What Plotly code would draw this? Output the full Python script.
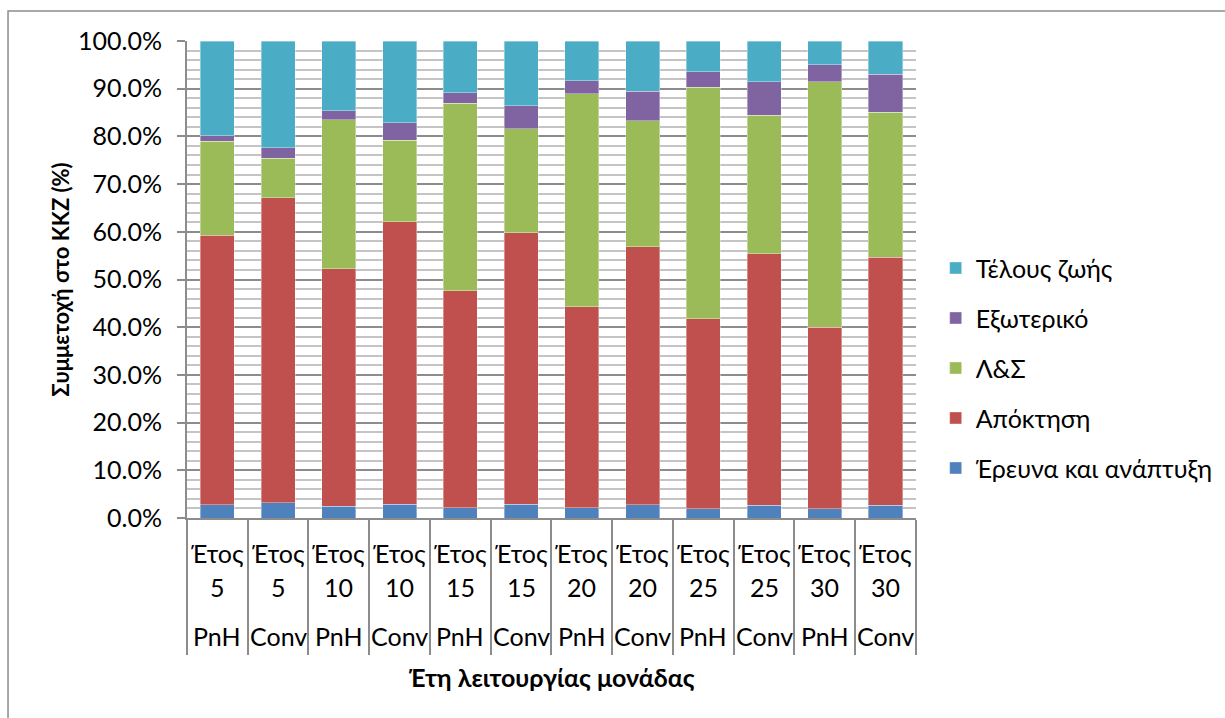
import plotly.graph_objects as go

# Categories: operating year and plant type
years = [5, 5, 10, 10, 15, 15, 20, 20, 25, 25, 30, 30]
kinds = ["PnH", "Conv", "PnH", "Conv", "PnH", "Conv",
         "PnH", "Conv", "PnH", "Conv", "PnH", "Conv"]

# Life-cycle cost shares (%) per phase
rnd = [2.8, 3.2, 2.5, 2.9, 2.2, 2.9, 2.2, 2.8, 1.95, 2.7, 1.95, 2.7]
acq = [56.5, 63.9, 49.8, 59.2, 45.4, 56.9, 42.1, 54.1, 39.85, 52.7, 38.05, 52.0]
om = [19.7, 8.3, 31.2, 17.1, 39.3, 21.8, 44.6, 26.4, 48.5, 29.0, 51.5, 30.4]
ext = [1.1, 2.2, 1.9, 3.7, 2.3, 4.8, 2.8, 6.2, 3.3, 7.1, 3.5, 7.9]
eol = [19.9, 22.4, 14.6, 17.1, 10.8, 13.6, 8.3, 10.5, 6.4, 8.5, 5.0, 7.0]

series_names = ["Έρευνα και ανάπτυξη", "Απόκτηση", "Λ&Σ", "Εξωτερικό", "Τέλους ζωής"]
series_values = [rnd, acq, om, ext, eol]
series_colors = ["#4F81BD", "#C0504D", "#9BBB59", "#8064A2", "#4BACC6"]

y_ticks = list(range(0, 101, 10))
y_ticklabels = [f"{v:.1f}%" for v in y_ticks]

cats = [f"Έτος {y} {k}" for y, k in zip(years, kinds)]

FONT = "Lato, 'Noto Sans', sans-serif"
FS = 25

fig = go.Figure()
n = len(series_names)
for i, (name, vals, col) in enumerate(zip(series_names, series_values, series_colors)):
    fig.add_trace(go.Bar(
        x=cats, y=vals, name=name,
        marker=dict(color=col, line=dict(color="rgba(255,255,255,0.6)", width=0.6)),
        legendgroup=f"g{i}", legendrank=n - i,
    ))

# Three-row category labels under each bar
annotations = []
for c, y, k in zip(cats, years, kinds):
    for text, py in (("Έτος", -0.0734), (str(y), -0.1447), (k, -0.2474)):
        annotations.append(dict(
            x=c, y=py, xref="x", yref="paper", text=text, showarrow=False,
            xanchor="center", yanchor="middle",
            font=dict(family=FONT, size=FS, color="#000000"),
        ))

# Horizontal axis title
annotations.append(dict(
    x=0.5, y=-0.333, xref="paper", yref="paper", showarrow=False,
    xanchor="center", yanchor="middle",
    text="<b>Έτη λειτουργίας μονάδας</b>",
    font=dict(family=FONT, size=FS, color="#000000"),
))

fig.update_layout(
    barmode="stack",
    bargap=0.44,
    width=1225, height=718,
    margin=dict(l=187, r=309, t=41, b=200, autoexpand=False),
    paper_bgcolor="white", plot_bgcolor="white",
    font=dict(family=FONT, size=FS, color="#000000"),
    showlegend=True,
    legend=dict(
        traceorder="grouped", x=1.027, y=0.314, xanchor="left", yanchor="middle",
        font=dict(family=FONT, size=FS), tracegroupgap=14.5,
        bgcolor="rgba(0,0,0,0)",
    ),
    annotations=annotations,
    shapes=[dict(
        type="rect", xref="paper", yref="paper",
        x0=-0.2455, x1=1.46, y0=-0.46, y1=1.0629,
        line=dict(color="#8C8C8C", width=1.5), fillcolor="rgba(0,0,0,0)", layer="below",
    )],
)

fig.update_xaxes(
    type="category",
    showticklabels=False,
    ticks="outside", tickson="boundaries", ticklen=135, tickcolor="#8C8C8C", tickwidth=1.5,
    showline=True, linecolor="#8C8C8C", linewidth=2,
    showgrid=False,
)

fig.update_yaxes(
    range=[0, 100], tickvals=y_ticks, ticktext=y_ticklabels,
    ticks="outside", ticklen=8, tickcolor="#8C8C8C", tickwidth=2,
    showline=True, linecolor="#8C8C8C", linewidth=2,
    showgrid=True, gridcolor="#8C8C8C", gridwidth=2,
    minor=dict(dtick=2, showgrid=True, gridcolor="#C4C4C4", gridwidth=2, ticks=""),
    zeroline=False,
    ticklabelstandoff=10,
    title=dict(text="<b>Συμμετοχή στο ΚΚΖ (%)</b>", standoff=2,
               font=dict(family=FONT, size=22)),
)

fig.write_html("out.html")
